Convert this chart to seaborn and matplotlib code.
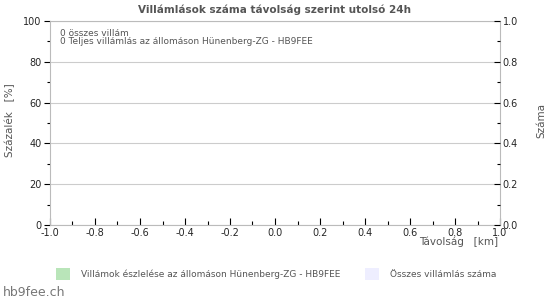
import matplotlib
matplotlib.use("Agg")
import matplotlib.pyplot as plt
import seaborn as sns
import pandas as pd
from matplotlib.ticker import MultipleLocator
from matplotlib.patches import Patch

sns.set_theme(style="white")
plt.rcParams['font.family'] = ['DejaVu Sans']

# Data (no strikes recorded)
distance_km = []
station_pct = []
total_count = []
title = "Villámlások száma távolság szerint utolsó 24h"
info_lines = ["0 összes villám", "0 Teljes villámlás az állomáson Hünenberg-ZG - HB9FEE"]
legend_labels = ["Villámok észlelése az állomáson Hünenberg-ZG - HB9FEE", "Összes villámlás száma"]
legend_colors = ["#b9e5b9", "#eeeeff"]

df = pd.DataFrame({"dist": distance_km, "pct": station_pct, "cnt": total_count})

fig = plt.figure(figsize=(5.5, 3.0), dpi=100)
ax = fig.add_axes([50/550, 1-225/300, 450/550, 204/300])
if len(df):
    sns.barplot(data=df, x="dist", y="pct", color=legend_colors[0], ax=ax)
ax.set_xlim(-1.0, 1.0)
ax.set_ylim(0, 100)
ax.xaxis.set_major_locator(MultipleLocator(0.2))
ax.xaxis.set_minor_locator(MultipleLocator(0.1))
ax.yaxis.set_major_locator(MultipleLocator(20))
ax.yaxis.set_minor_locator(MultipleLocator(10))
ax.xaxis.set_major_formatter(matplotlib.ticker.FormatStrFormatter('%.1f'))
ax.grid(axis='y', which='major', color='#cccccc', linewidth=0.8)
ax.set_axisbelow(True)
for s in ax.spines.values():
    s.set_color('#bbbbbb')
    s.set_linewidth(0.8)
ax.tick_params(axis='x', which='major', direction='in', length=5, width=0.8, color='black', labelsize=7, pad=2)
ax.tick_params(axis='x', which='minor', direction='in', length=3, width=0.8, color='black')
ax.tick_params(axis='y', which='major', direction='out', length=4, width=0.8, color='black', labelsize=7, pad=2)
ax.tick_params(axis='y', which='minor', direction='out', length=2, width=0.8, color='black')
ax.tick_params(axis='both', which='both', bottom=True, left=True, top=False, right=False)

ax2 = ax.twinx()
ax2.set_ylim(0, 1.0)
if len(df):
    sns.lineplot(data=df, x="dist", y="cnt", ax=ax2, color=legend_colors[1])
ax2.yaxis.set_major_locator(MultipleLocator(0.2))
ax2.yaxis.set_minor_locator(MultipleLocator(0.1))
ax2.yaxis.set_major_formatter(matplotlib.ticker.FormatStrFormatter('%.1f'))
for s in ax2.spines.values():
    s.set_visible(False)
ax2.tick_params(axis='y', which='major', direction='in', length=4, width=0.8, color='black', labelsize=7, pad=2)
ax2.tick_params(axis='y', which='minor', direction='in', length=2, width=0.8, color='black')
ax2.tick_params(axis='y', which='both', right=True, left=False)
ax2.set_ylabel("")
ax.set_xlabel("")
ax.set_ylabel("")

fig.text(275/550, 1-10/300, title, ha='center', va='center', fontsize=7.5, fontweight='bold', color='#555555')
fig.text(60/550, 1-33/300, info_lines[0], ha='left', va='center', fontsize=6.5, color='#555555')
fig.text(60/550, 1-42/300, info_lines[1], ha='left', va='center', fontsize=6.5, color='#555555')
fig.text(10/550, 1-120/300, "Százalék   [%]", rotation=90, ha='center', va='center', fontsize=7.5, color='#555555')
fig.text(541/550, 1-120/300, "Száma", rotation=90, ha='center', va='center', fontsize=7.5, color='#555555')
fig.text(498/550, 1-242/300, "Távolság   [km]", ha='right', va='center', fontsize=7.5, color='#555555')
fig.text(3/550, 1-293/300, "hb9fee.ch", ha='left', va='center', fontsize=9, color='#777777')

handles = [Patch(facecolor=c, edgecolor='none') for c in legend_colors]
fig.legend(handles[:1], legend_labels[:1], loc='center left', bbox_to_anchor=(48/550, 1-274/300),
           frameon=False, fontsize=6.5, labelcolor='#555555', handlelength=1.5, handleheight=1.6, handletextpad=1.2)
fig.legend(handles[1:], legend_labels[1:], loc='center left', bbox_to_anchor=(357/550, 1-274/300),
           frameon=False, fontsize=6.5, labelcolor='#555555', handlelength=1.5, handleheight=1.6, handletextpad=1.2)

fig.savefig("out.png", dpi=100)
